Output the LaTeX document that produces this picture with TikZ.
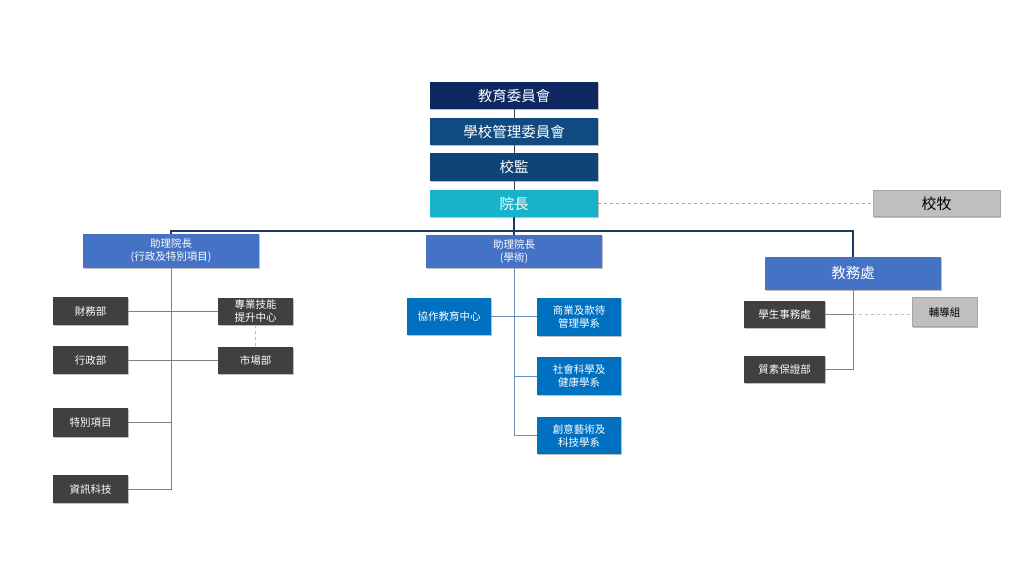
\documentclass[tikz,border=0pt]{standalone}
\usepackage{fontspec}
\newfontfamily\cjk{Noto Sans CJK TC}
\usetikzlibrary{shadows}
\definecolor{cNavy}{HTML}{0E2760}
\definecolor{cMgmt}{HTML}{114A80}
\definecolor{cSup}{HTML}{0F4476}
\definecolor{cPres}{HTML}{17B3CB}
\definecolor{cBlue}{HTML}{4472C4}
\definecolor{cMid}{HTML}{0070C0}
\definecolor{cDark}{HTML}{404040}
\definecolor{cGray}{HTML}{BFBFBF}
\definecolor{cGrayB}{HTML}{A6A6A6}
\definecolor{cBus}{HTML}{1F3864}
\definecolor{cLine}{HTML}{7F7F7F}
\definecolor{cMidLine}{HTML}{6A8FC0}
\tikzset{
  box/.style={inner sep=0pt, align=center, text=white,
    drop shadow={shadow xshift=1.2pt, shadow yshift=-1.2pt, fill=black, opacity=0.25}},
  topbox/.style={box, minimum width=168pt, minimum height=27pt, font=\cjk\fontsize{14.5}{16}\selectfont},
  bluebox/.style={box, fill=cBlue, minimum width=176pt, minimum height=33pt, font=\cjk\fontsize{10.5}{13}\selectfont},
  darkbox/.style={box, fill=cDark, minimum width=75pt, minimum height=28pt, font=\cjk\fontsize{10.5}{13}\selectfont},
  midbox/.style={box, fill=cMid, minimum width=84pt, minimum height=37pt, font=\cjk\fontsize{10.5}{13}\selectfont},
  graybox/.style={box, fill=cGray, draw=cGrayB, text=black},
  busline/.style={draw=cBus, line width=1.2pt},
  topline/.style={draw=cDark, line width=1pt},
  grayline/.style={draw=cLine, line width=0.9pt},
  midline/.style={draw=cMidLine, line width=1pt},
  dashline/.style={draw=cGrayB, line width=0.9pt, dash pattern=on 3pt off 3pt},
}
\begin{document}
\begin{tikzpicture}[x=1pt, y=-1pt]
\useasboundingbox[fill=white] (0,0) rectangle (1024,576);
% top chain
\node[topbox, fill=cNavy] (jy) at (514,95.5) {\raisebox{-3pt}{教育委員會}};
\node[topbox, fill=cMgmt] (xg) at (514,131.5) {\raisebox{-2pt}{學校管理委員會}};
\node[topbox, fill=cSup, minimum height=28pt] (xj) at (514,167) {校監};
\node[topbox, fill=cPres] (yz) at (514,203.5) {院長};
\node[graybox, minimum width=127pt, minimum height=26pt, font=\cjk\fontsize{15}{16}\selectfont] (xm) at (936.5,203.5) {校牧};
% level 2
\node[bluebox, minimum height=34pt] (a1) at (171,251) {助理院長\\(行政及特別項目)};
\node[bluebox] (a2) at (514,251.5) {助理院長\\(學術)};
\node[bluebox, font=\cjk\fontsize{14.5}{16}\selectfont] (jw) at (853,273.5) {教務處};
% left group
\node[darkbox] (cw) at (90.5,311) {財務部};
\node[darkbox] (xz) at (90.5,360) {行政部};
\node[darkbox, minimum height=29pt] (tb) at (90.5,422.5) {特別項目};
\node[darkbox] (zx) at (90.5,489) {資訊科技};
\node[darkbox, minimum height=27pt] (zy) at (255.5,311) {專業技能\\提升中心};
\node[darkbox, minimum height=27pt] (sc) at (255.5,360) {市場部};
% middle group
\node[midbox] (xzjy) at (449,316.5) {協作教育中心};
\node[midbox, minimum height=38pt] (sy) at (579,316.5) {商業及款待\\管理學系};
\node[midbox, minimum height=38pt] (sh) at (579,376) {社會科學及\\健康學系};
\node[midbox] (cy) at (579,435.5) {創意藝術及\\科技學系};
% right group
\node[darkbox, minimum width=81pt, minimum height=27pt] (xs) at (784.5,314.5) {學生事務處};
\node[darkbox, minimum width=81pt, minimum height=27pt] (zs) at (784.5,369.5) {質素保證部};
\node[graybox, minimum width=65pt, minimum height=29pt, font=\cjk\fontsize{10.5}{13}\selectfont] (fd) at (944.5,312) {輔導組};
% connectors: top chain
\path[topline] (jy.south) -- (xg.north);
\path[topline] (xg.south) -- (xj.north);
\path[topline] (xj.south) -- (yz.north);
\path[dashline] (yz.east) -- (xm.west);
\coordinate (busL) at (171,231);
\coordinate (busR) at (853,231);
\path[busline] (a1.north) -- (busL) -- (busR) -- (jw.north);
\path[busline] (yz.south) -- (a2.north);
% left
\path[grayline] (a1.south) -- (a1.south |- zx.east) -- (zx.east);
\path[grayline] (cw.east) -- (zy.west);
\path[grayline] (xz.east) -- (sc.west);
\path[grayline] (tb.east) -- (tb.east -| a1.south);
\path[dashline, draw=cGray] (zy.south) -- (sc.north);
% middle
\path[midline] (a2.south) -- (a2.south |- cy.west) -- (cy.west);
\path[midline] (xzjy.east) -- (sy.west);
\path[midline] (sh.west) -- (sh.west -| a2.south);
% right
\path[grayline] (jw.south) -- (jw.south |- zs.east) -- (zs.east);
\path[grayline] (xs.east) -- (xs.east -| jw.south);
\path[dashline, draw=cGray] (xs.east -| jw.south) -- (xs.east -| fd.west);
\end{tikzpicture}
\end{document}
